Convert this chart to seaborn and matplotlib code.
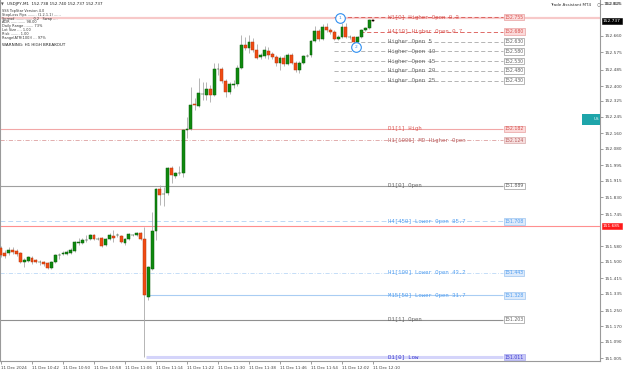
import numpy as np
import pandas as pd
import matplotlib
matplotlib.use("Agg")
import matplotlib.pyplot as plt
import matplotlib.transforms as mtransforms
from matplotlib.patches import Rectangle
import seaborn as sns

# ---------------- data (USDJPY M1, 11 Dec 2024 10:34 - 12:10) ----------------
opens = [151.571, 151.545, 151.545, 151.561, 151.555, 151.545, 151.499, 151.504, 151.520, 151.509,
         151.499, 151.499, 151.494, 151.468, 151.499, 151.535, 151.540, 151.540, 151.545, 151.555,
         151.596, 151.596, 151.612, 151.617, 151.637, 151.617, 151.622, 151.586, 151.617, 151.632,
         151.637, 151.632, 151.596, 151.617, 151.637, 151.637, 151.648, 151.617, 151.319, 151.463,
         151.658, 151.873, 151.848, 151.853, 151.981, 151.940, 151.956, 151.956, 152.176, 152.181,
         152.309, 152.299, 152.361, 152.356, 152.386, 152.356, 152.489, 152.489, 152.427, 152.371,
         152.407, 152.412, 152.494, 152.612, 152.597, 152.628, 152.587, 152.551, 152.556, 152.581,
         152.566, 152.551, 152.520, 152.545, 152.515, 152.561, 152.520, 152.484, 152.520, 152.556,
         152.561, 152.633, 152.684, 152.643, 152.705, 152.689, 152.679, 152.643, 152.653, 152.705,
         152.653, 152.653, 152.628, 152.653, 152.689, 152.699, 152.738]
highs = [151.581, 151.561, 151.576, 151.576, 151.566, 151.550, 151.520, 151.530, 151.530, 151.514,
         151.509, 151.504, 151.499, 151.504, 151.540, 151.545, 151.555, 151.561, 151.571, 151.607,
         151.622, 151.622, 151.637, 151.643, 151.643, 151.627, 151.627, 151.622, 151.648, 151.663,
         151.648, 151.637, 151.622, 151.648, 151.643, 151.653, 151.653, 151.679, 151.478, 151.755,
         151.879, 151.894, 151.884, 151.986, 151.991, 151.961, 151.991, 152.181, 152.243, 152.397,
         152.340, 152.443, 152.422, 152.422, 152.407, 152.520, 152.520, 152.499, 152.438, 152.422,
         152.433, 152.510, 152.663, 152.653, 152.663, 152.648, 152.617, 152.571, 152.607, 152.602,
         152.576, 152.561, 152.556, 152.561, 152.571, 152.571, 152.530, 152.530, 152.561, 152.566,
         152.638, 152.710, 152.694, 152.720, 152.725, 152.699, 152.689, 152.663, 152.725, 152.725,
         152.663, 152.658, 152.658, 152.694, 152.705, 152.746, 152.740]
lows = [151.525, 151.520, 151.535, 151.540, 151.530, 151.494, 151.473, 151.499, 151.489, 151.494,
        151.484, 151.478, 151.463, 151.463, 151.494, 151.514, 151.535, 151.535, 151.540, 151.550,
        151.586, 151.591, 151.602, 151.612, 151.612, 151.612, 151.576, 151.581, 151.612, 151.602,
        151.627, 151.596, 151.586, 151.612, 151.632, 151.632, 151.612, 151.012, 151.304, 151.458,
        151.612, 151.791, 151.786, 151.843, 151.904, 151.930, 151.945, 151.935, 152.135, 152.176,
        152.279, 152.294, 152.330, 152.330, 152.320, 152.351, 152.458, 152.417, 152.345, 152.361,
        152.392, 152.402, 152.489, 152.587, 152.571, 152.576, 152.540, 152.540, 152.545, 152.540,
        152.540, 152.504, 152.484, 152.504, 152.510, 152.515, 152.474, 152.468, 152.515, 152.551,
        152.551, 152.628, 152.633, 152.638, 152.679, 152.669, 152.638, 152.638, 152.648, 152.648,
        152.643, 152.617, 152.622, 152.648, 152.684, 152.694, 152.737]
closes = [151.535, 151.530, 151.561, 151.550, 151.540, 151.499, 151.509, 151.525, 151.499, 151.499,
          151.499, 151.489, 151.468, 151.499, 151.535, 151.535, 151.545, 151.550, 151.561, 151.602,
          151.602, 151.612, 151.612, 151.637, 151.617, 151.617, 151.581, 151.617, 151.637, 151.622,
          151.637, 151.602, 151.617, 151.643, 151.637, 151.648, 151.617, 151.330, 151.473, 151.658,
          151.873, 151.843, 151.848, 151.981, 151.945, 151.956, 151.956, 152.176, 152.181, 152.304,
          152.304, 152.366, 152.361, 152.386, 152.356, 152.489, 152.489, 152.427, 152.371, 152.412,
          152.412, 152.494, 152.612, 152.597, 152.628, 152.587, 152.545, 152.561, 152.587, 152.561,
          152.551, 152.520, 152.545, 152.515, 152.561, 152.520, 152.484, 152.520, 152.556, 152.556,
          152.633, 152.684, 152.643, 152.705, 152.689, 152.679, 152.643, 152.653, 152.705, 152.653,
          152.653, 152.628, 152.653, 152.689, 152.699, 152.740, 152.737]
times = pd.date_range("2024-12-11 10:34", periods=len(opens), freq="min")

x_tick_labels = ["11 Dec 2024", "11 Dec 10:42", "11 Dec 10:50", "11 Dec 10:58", "11 Dec 11:06",
                 "11 Dec 11:14", "11 Dec 11:22", "11 Dec 11:30", "11 Dec 11:38", "11 Dec 11:46",
                 "11 Dec 11:54", "11 Dec 12:02", "11 Dec 12:10"]
x_tick_times = ["10:34", "10:42", "10:50", "10:58", "11:06", "11:14", "11:22", "11:30",
                "11:38", "11:46", "11:54", "12:02", "12:10"]
y_tick_values = [152.825, 152.660, 152.575, 152.485, 152.400, 152.325, 152.245, 152.160,
                 152.080, 151.995, 151.915, 151.830, 151.745, 151.580, 151.500, 151.415,
                 151.335, 151.250, 151.170, 151.090, 151.005]

level_names = ["W1[0] Higher Open 0.3", "H4[10] Higher Open 0.7", "Higher Open 5",
               "Higher Open 10", "Higher Open 15", "Higher Open 20", "Higher Open 25",
               "D1[1] High", "H1[1006] MD Higher Open", "D1[0] Open",
               "H4[450] Lower Open 85.7", "H1[100] Lower Open 43.2",
               "M15[50] Lower Open 31.7", "D1[1] Open", "D1[0] Low"]
level_prices = [152.755, 152.680, 152.630, 152.580, 152.530, 152.480, 152.430,
                152.182, 152.124, 151.889, 151.708, 151.443, 151.328, 151.203, 151.011]

band_price = 152.751      # pink line across the top
alert_price = 151.685     # red horizontal line
bid_price = 152.737       # current price
marker_times = ["12:01", "12:05"]
marker_prices = [152.751, 152.602]
marker_labels = ["1", "2"]

# ---------------- styling ----------------
sns.set_theme(style="white")
plt.rcParams["font.family"] = ["DejaVu Sans"]

W, H = 625, 377
AX_W, AX_H = 600, 361
STEP = 3.875
X0, X1 = -1 / STEP, (AX_W - 1) / STEP
Y0, Y1 = 150.991, 152.843


def px_x(px):
    return X0 + px / AX_W * (X1 - X0)


RED_T, RED_L, RED_F, RED_E = "#d9534f", "#f2a7a7", "#fbdada", "#e8a0a0"
GRY_T, GRY_L, GRY_F, GRY_E = "#606060", "#a8a8a8", "#ffffff", "#9a9a9a"
BLU_T, BLU_L, BLU_F, BLU_E = "#4d9cf0", "#a9cdf3", "#dceafb", "#9cc4f0"
DASH = (0, (5, 3))
DASHDOT = (0, (5, 2, 1, 2))

level_style = {
    "W1[0] Higher Open 0.3": dict(lc=RED_T, ls=DASH, lw=0.6, start=334, tc=RED_T, fc=RED_F, ec=RED_E),
    "H4[10] Higher Open 0.7": dict(lc=RED_T, ls=DASH, lw=0.6, start=360, tc=RED_T, fc=RED_F, ec=RED_E),
    "Higher Open 5": dict(lc=GRY_L, ls=DASH, lw=0.6, start=334, tc=GRY_T, fc=GRY_F, ec=GRY_E),
    "Higher Open 10": dict(lc=GRY_L, ls=DASH, lw=0.6, start=334, tc=GRY_T, fc=GRY_F, ec=GRY_E),
    "Higher Open 15": dict(lc=GRY_L, ls=DASH, lw=0.6, start=334, tc=GRY_T, fc=GRY_F, ec=GRY_E),
    "Higher Open 20": dict(lc=GRY_L, ls=DASH, lw=0.6, start=334, tc=GRY_T, fc=GRY_F, ec=GRY_E),
    "Higher Open 25": dict(lc=GRY_L, ls=DASH, lw=0.6, start=334, tc=GRY_T, fc=GRY_F, ec=GRY_E),
    "D1[1] High": dict(lc=RED_L, ls="-", lw=0.8, start=0, tc=RED_T, fc=RED_F, ec=RED_E),
    "H1[1006] MD Higher Open": dict(lc="#dda0a0", ls=DASHDOT, lw=0.6, start=0, tc="#b85c5c", fc="#f6dede", ec="#d8a8a8"),
    "D1[0] Open": dict(lc="#a0a0a0", ls="-", lw=0.8, start=0, tc=GRY_T, fc=GRY_F, ec=GRY_E),
    "H4[450] Lower Open 85.7": dict(lc="#bcd8f6", ls=DASH, lw=0.7, start=0, tc=BLU_T, fc=BLU_F, ec=BLU_E),
    "H1[100] Lower Open 43.2": dict(lc="#bcd8f6", ls=DASHDOT, lw=0.6, start=0, tc=BLU_T, fc=BLU_F, ec=BLU_E),
    "M15[50] Lower Open 31.7": dict(lc=BLU_L, ls="-", lw=0.8, start=148, tc=BLU_T, fc=BLU_F, ec=BLU_E),
    "D1[1] Open": dict(lc="#909090", ls="-", lw=0.8, start=0, tc=GRY_T, fc=GRY_F, ec=GRY_E),
    "D1[0] Low": dict(lc="#d4d4fa", ls="-", lw=2.2, start=146, tc="#3a3ad0", fc="#c8c8f6", ec="#a8a8ee"),
}

fig = plt.figure(figsize=(W / 100, H / 100), dpi=100)
fig.patch.set_facecolor("white")
ax = fig.add_axes([0, 1 - AX_H / H, AX_W / W, AX_H / H])
ax.set_facecolor("white")
ax.set_xlim(X0, X1)
ax.set_ylim(Y0, Y1)

# ---------------- level lines ----------------
ax.axhline(band_price, color="#f7c9c9", lw=1.6, zorder=1)
ax.axhline(alert_price, color="#ff8f8f", lw=0.8, zorder=1)

box_left = px_x(503)
for name, price in zip(level_names, level_prices):
    st = level_style[name]
    ax.hlines(price, px_x(st["start"]), box_left, colors=st["lc"], linestyles=st["ls"],
              lw=st["lw"], zorder=1)
    ax.text(px_x(388), price, name, family="Liberation Mono", fontsize=4.1, color=st["tc"],
            ha="left", va="center", zorder=5)
    ax.text(px_x(504.5), price, f"{price:.3f}", fontsize=3.3, color=st["tc"], ha="left", va="center",
            zorder=6, bbox=dict(boxstyle="square,pad=0.18", fc=st["fc"], ec=st["ec"], lw=0.5))

# ---------------- candles ----------------
df = pd.DataFrame({"time": times, "open": opens, "high": highs, "low": lows, "close": closes})
df["i"] = np.arange(len(df))
df["bottom"] = df[["open", "close"]].min(axis=1)
df["height"] = (df["close"] - df["open"]).abs().clip(lower=0.0012)
bull = df["close"] > df["open"]
bear = df["close"] < df["open"]
doji = ~(bull | bear)

ax.vlines(df["i"], df["low"], df["high"], colors="#a9a9a9", lw=0.6, zorder=2)
ax.bar(df.loc[bull, "i"], df.loc[bull, "height"], bottom=df.loc[bull, "bottom"], width=0.72,
       color="#0e8a0e", edgecolor="#0a5c0a", lw=0.35, zorder=3)
ax.bar(df.loc[bear, "i"], df.loc[bear, "height"], bottom=df.loc[bear, "bottom"], width=0.72,
       color="#f04b12", edgecolor="#b8380e", lw=0.35, zorder=3)
ax.bar(df.loc[doji, "i"], df.loc[doji, "height"], bottom=df.loc[doji, "bottom"], width=0.72,
       color="#1a4a1a", edgecolor="#1a4a1a", lw=0.35, zorder=3)
ax.bar(df["i"].iloc[-1:], [0.0025], bottom=[bid_price - 0.0012], width=0.72,
       color="black", edgecolor="black", lw=0.35, zorder=4)

# ---------------- numbered markers ----------------
time_index = {t.strftime("%H:%M"): k for k, t in enumerate(times)}
mk = pd.DataFrame({"x": [time_index[t] + 0.5 for t in marker_times], "y": marker_prices})
sns.scatterplot(data=mk, x="x", y="y", ax=ax, s=48, marker="o", facecolor="white",
                edgecolor="#2f8ff0", linewidth=0.8, zorder=7, legend=False)
for xx, yy, lab in zip(mk["x"], mk["y"], marker_labels):
    ax.text(xx, yy, lab, fontsize=3.2, color="#2f8ff0", ha="center", va="center", zorder=8)

# ---------------- axes ----------------
for side in ["top"]:
    ax.spines[side].set_visible(False)
for side in ["left", "bottom", "right"]:
    ax.spines[side].set_color("#9a9a9a")
    ax.spines[side].set_linewidth(0.8)
ax.set_xlabel("")
ax.set_ylabel("")
ax.yaxis.tick_right()
ax.set_yticks(y_tick_values)
ax.set_yticklabels([f"{v:.3f}" for v in y_tick_values])
ax.tick_params(axis="y", right=True, left=False, length=1.8, width=0.5, color="#777777",
               labelsize=3.1, labelcolor="#444444", pad=1.2)
ax.set_xticks([time_index[t] for t in x_tick_times])
ax.set_xticklabels(x_tick_labels, ha="left")
ax.tick_params(axis="x", bottom=True, length=1.8, width=0.5, color="#777777",
               labelsize=3.0, labelcolor="#444444", pad=1.6)
ax.grid(False)

blend = mtransforms.blended_transform_factory(ax.transAxes, ax.transData)
ax.text(1 + 3 / AX_W, bid_price, f"{bid_price:.3f}", transform=blend, fontsize=3.1, color="white",
        ha="left", va="center", clip_on=False, zorder=9,
        bbox=dict(boxstyle="square,pad=0.25", fc="black", ec="black", lw=0.4))
ax.text(1 + 3 / AX_W, alert_price, f"{alert_price:.3f}", transform=blend, fontsize=3.1, color="white",
        ha="left", va="center", clip_on=False, zorder=9,
        bbox=dict(boxstyle="square,pad=0.25", fc="#ff1a1a", ec="#ff1a1a", lw=0.4))

# ---------------- overlay texts ----------------
fig.text(1 / W, 1 - 4 / H, "\u25bc", fontsize=2.6, color="#555555", va="center", ha="left")
fig.text(7 / W, 1 - 4 / H, "USDJPY,M1  152.738 152.740 152.737 152.737", fontsize=3.0,
         color="#222222", va="center", ha="left")
info_lines = ["SSS TopStar Version 4.0",
              "StopLoss Pips ........ (1.2.1.1) ......",
              "Spread ............... 0.2   Swap ....",
              "ADR ............. 98.00",
              "Daily Range ........ 73%",
              "Lot Size .... 1.00",
              "Risk ........ 1.00",
              "Range(ATR(100)) ... 97%"]
for k, line in enumerate(info_lines):
    fig.text(2 / W, 1 - (11 + 3.8 * k) / H, line, fontsize=2.5, color="#333333",
             va="center", ha="left")
fig.text(2 / W, 1 - 45 / H, "WARNING: H1 HIGH BREAKOUT", fontsize=3.0, color="#222222",
         va="center", ha="left")
fig.text(550 / W, 1 - 5 / H, "Trade Assistant MT4", fontsize=3.0, color="#333333",
         va="center", ha="left")
fig.text(599 / W, 1 - 5 / H, "\u25cb", fontsize=3.2, color="#555555", va="center", ha="center")
fig.text(604 / W, 1 - 4 / H, "152.825", fontsize=3.1, color="#444444", va="center", ha="left")

fig.add_artist(Rectangle((582 / W, 1 - 125 / H), 18 / W, 11 / H, transform=fig.transFigure,
                         fc="#1ea5aa", ec="none", zorder=10))
fig.text(594 / W, 1 - 119.5 / H, "US", fontsize=3.0, color="white", va="center", ha="left",
         zorder=11, clip_on=True)

fig.savefig("out.png", dpi=100)
